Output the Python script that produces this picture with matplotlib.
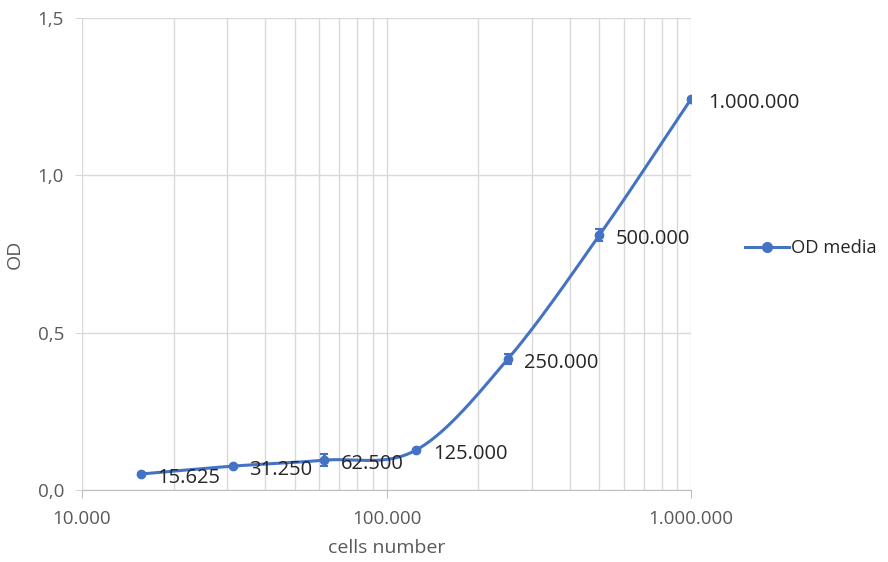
import numpy as np
import matplotlib.pyplot as plt
from matplotlib.ticker import FixedLocator, FuncFormatter, LogLocator, NullFormatter

plt.rcParams['font.family'] = ['Open Sans', 'DejaVu Sans']

# standard curve: OD vs number of cells
cells = [15625, 31250, 62500, 125000, 250000, 500000, 1000000]
od_mean = [0.051, 0.076, 0.095, 0.127, 0.416, 0.810, 1.243]
od_err = [0.002, 0.002, 0.020, 0.002, 0.016, 0.020, 0.002]
point_labels = ["15.625", "31.250", "62.500", "125.000", "250.000", "500.000", "1.000.000"]

blue = '#4472C4'
grey = '#595959'


def smooth_curve(xs, ys, n=40):
    # Catmull-Rom through the points, in log-x space
    lx = np.log10(xs)
    y = np.asarray(ys, dtype=float)
    px = np.concatenate([[2 * lx[0] - lx[1]], lx, [2 * lx[-1] - lx[-2]]])
    py = np.concatenate([[2 * y[0] - y[1]], y, [2 * y[-1] - y[-2]]])
    out_x, out_y = [], []
    t = np.linspace(0, 1, n)
    for i in range(1, len(px) - 2):
        for arr, out in ((px, out_x), (py, out_y)):
            p0, p1, p2, p3 = arr[i - 1], arr[i], arr[i + 1], arr[i + 2]
            seg = 0.5 * ((2 * p1) + (-p0 + p2) * t
                         + (2 * p0 - 5 * p1 + 4 * p2 - p3) * t ** 2
                         + (-p0 + 3 * p1 - 3 * p2 + p3) * t ** 3)
            out.extend(seg)
    return 10 ** np.array(out_x), np.array(out_y)


fig = plt.figure(figsize=(8.88, 5.62), dpi=100)
ax = fig.add_axes([0.0923, 0.128, 0.686, 0.840])

sx, sy = smooth_curve(cells, od_mean)
ax.plot(sx, sy, color=blue, lw=2.2, zorder=3)
ax.errorbar(cells, od_mean, yerr=od_err, fmt='none', ecolor=blue, elinewidth=2,
            capsize=2.8, capthick=1.5, zorder=4)
ax.plot(cells, od_mean, 'o', color=blue, ms=6, zorder=4)

for x, y, lab in zip(cells, od_mean, point_labels):
    ax.annotate(lab, (x, y), xytext=(12, -3), textcoords='offset points',
                ha='left', va='center', fontsize=14.5, color='#262626', zorder=6)

ax.set_xscale('log')
ax.set_xlim(10000, 1000000)
ax.set_ylim(0, 1.5)
ax.xaxis.set_major_locator(FixedLocator([1e4, 1e5, 1e6]))
ax.xaxis.set_minor_locator(LogLocator(base=10, subs=np.arange(2, 10)))
ax.xaxis.set_minor_formatter(NullFormatter())
ax.xaxis.set_major_formatter(FuncFormatter(lambda v, p: f"{int(v):,}".replace(',', '.')))
ax.yaxis.set_major_locator(FixedLocator([0, 0.5, 1.0, 1.5]))
ax.yaxis.set_major_formatter(FuncFormatter(lambda v, p: f"{v:.1f}".replace('.', ',')))

ax.grid(True, which='both', axis='x', color='#d9d9d9', lw=1)
ax.grid(True, which='major', axis='y', color='#d9d9d9', lw=1)
ax.set_axisbelow(True)

for s in ('top', 'right', 'left'):
    ax.spines[s].set_visible(False)
ax.spines['bottom'].set_color('#bfbfbf')
ax.tick_params(axis='x', which='major', length=6, color='#bfbfbf', labelsize=13.5,
               labelcolor=grey, pad=8)
ax.tick_params(axis='x', which='minor', length=0)
ax.tick_params(axis='y', length=5, color='#d9d9d9', labelsize=13.5, labelcolor=grey, pad=8)

ax.set_xlabel('cells number', fontsize=14, color=grey, labelpad=8)
ax.set_ylabel('OD', fontsize=14, color=grey, labelpad=10)

legend_handle = plt.Line2D([], [], color=blue, lw=2.2, marker='o', ms=7)
fig.legend([legend_handle], ['OD media'], loc='center left',
           bbox_to_anchor=(0.839, 0.558), frameon=False, fontsize=13.2,
           handlelength=2.4, handletextpad=0.1, labelcolor='#262626',
           borderaxespad=0, borderpad=0)

fig.savefig('out.png', dpi=100)
